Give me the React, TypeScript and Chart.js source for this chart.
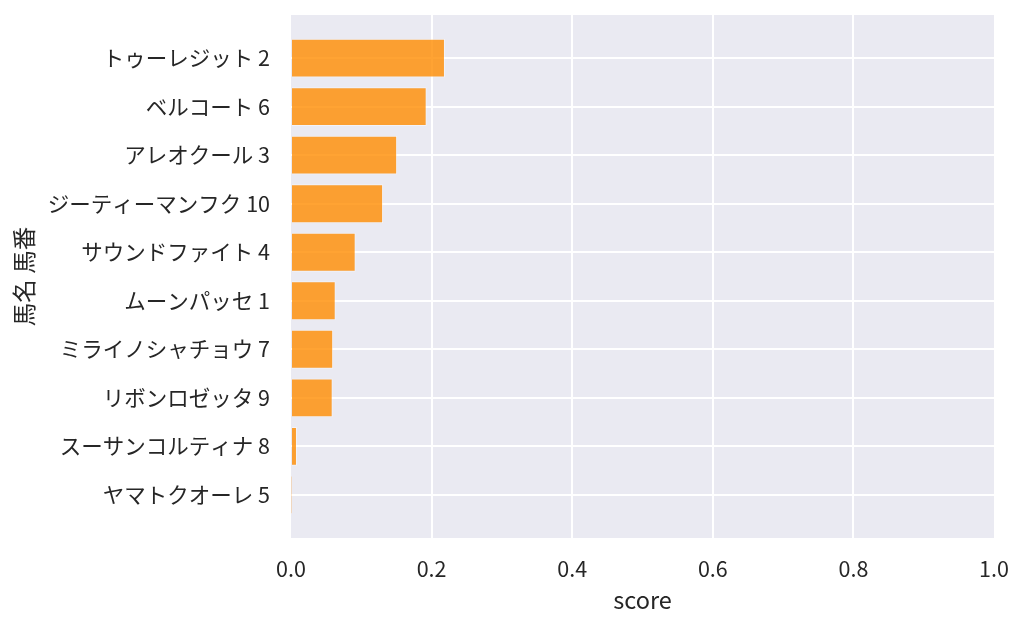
import React, { useEffect, useRef } from 'react';
import Chart from 'chart.js/auto';

const horseNames = [
  'トゥーレジット 2',
  'ベルコート 6',
  'アレオクール 3',
  'ジーティーマンフク 10',
  'サウンドファイト 4',
  'ムーンパッセ 1',
  'ミライノシャチョウ 7',
  'リボンロゼッタ 9',
  'スーサンコルティナ 8',
  'ヤマトクオーレ 5',
];
const scores = [0.219, 0.193, 0.151, 0.131, 0.092, 0.0636, 0.06, 0.0593, 0.0085, 0.0004];
const xTicks = [0, 0.2, 0.4, 0.6, 0.8, 1.0];

const FONT = '"Noto Sans CJK JP", "Noto Sans", sans-serif';
const TEXT = '#262626';

const App = () => {
  const chartRef = useRef<HTMLCanvasElement | null>(null);

  useEffect(() => {
    if (!chartRef.current) return;

    const myChart = new Chart(chartRef.current, {
      type: 'bar',
      data: {
        datasets: [
          {
            label: 'score',
            data: scores.map((s, i) => ({ x: s, y: i })),
            backgroundColor: 'rgba(255, 140, 0, 0.8)',
            borderColor: 'rgba(255, 255, 255, 0.45)',
            borderWidth: 1,
            barPercentage: 0.8,
            categoryPercentage: 1.0,
          },
        ],
      },
      options: {
        indexAxis: 'y',
        animation: false,
        responsive: true,
        maintainAspectRatio: false,
        layout: { padding: { top: 15, right: 30, left: 0, bottom: 0 } },
        plugins: {
          legend: { display: false },
          tooltip: { enabled: false },
        },
        scales: {
          x: {
            type: 'linear',
            min: 0,
            max: 1,
            afterBuildTicks: (scale) => {
              scale.ticks = xTicks.map((v) => ({ value: v }));
            },
            afterFit: (scale) => {
              scale.height = 89;
              scale.paddingLeft = 0;
              scale.paddingRight = 0;
            },
            border: { display: false },
            grid: {
              color: (ctx) =>
                ctx.tick && (ctx.tick.value === 0 || ctx.tick.value === 1) ? 'rgba(0,0,0,0)' : '#ffffff',
              lineWidth: 2,
              drawTicks: false,
            },
            ticks: {
              padding: 18,
              color: TEXT,
              font: { family: FONT, size: 21.5 },
              callback: (v) => Number(v).toFixed(1),
            },
            title: {
              display: true,
              text: 'score',
              color: TEXT,
              font: { family: FONT, size: 23.5 },
              padding: { top: 0, bottom: 13 },
            },
          },
          y: {
            type: 'linear',
            reverse: true,
            offset: false,
            min: -0.89,
            max: horseNames.length - 1 + 0.89,
            afterBuildTicks: (scale) => {
              scale.ticks = horseNames.map((_, i) => ({ value: i }));
            },
            afterFit: (scale) => {
              scale.width = 291;
              scale.paddingTop = 0;
              scale.paddingBottom = 0;
            },
            border: { display: false },
            grid: { color: '#ffffff', lineWidth: 2, drawTicks: false, offset: false },
            ticks: {
              padding: 21,
              color: TEXT,
              font: { family: FONT, size: 21.5 },
              callback: (v) => horseNames[Number(v)] ?? '',
            },
            title: {
              display: true,
              text: '馬名 馬番',
              color: TEXT,
              font: { family: FONT, size: 23.5 },
              padding: { top: 10, bottom: 0 },
            },
          },
        },
      },
      plugins: [
        {
          id: 'plotBackground',
          beforeDraw: (chart) => {
            const { ctx, chartArea } = chart;
            ctx.save();
            ctx.fillStyle = '#eaeaf2';
            ctx.fillRect(chartArea.left, chartArea.top, chartArea.right - chartArea.left, chartArea.bottom - chartArea.top);
            ctx.restore();
          },
        },
      ],
    });

    return () => {
      myChart.destroy();
    };
  }, []);

  return (
    <div style={{ position: 'absolute', left: 0, top: 0, width: 1024, height: 627, background: '#ffffff' }}>
      <canvas ref={chartRef} />
    </div>
  );
};

export default App;
